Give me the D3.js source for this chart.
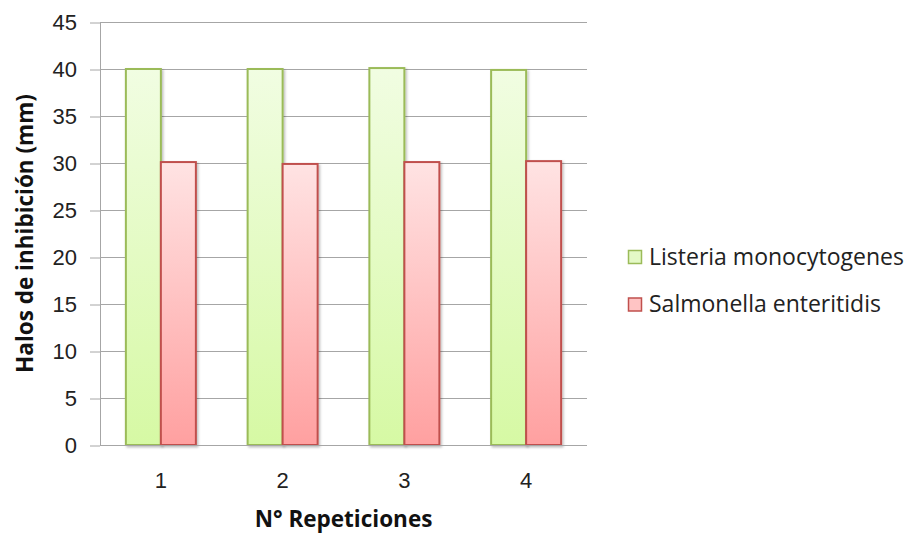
<!DOCTYPE html>
<html>
<head>
<meta charset="utf-8">
<script src="https://cdn.jsdelivr.net/npm/d3@7"></script>
<style>
  html, body { margin: 0; padding: 0; background: #fff; }
  svg { display: block; font-family: "Open Sans", "Liberation Sans", sans-serif; }
</style>
</head>
<body>
<svg id="chart" width="911" height="533"></svg>
<script>
// Inhibition halo diameters per repetition
const categories = ["1", "2", "3", "4"];
const seriesNames = ["Listeria monocytogenes", "Salmonella enteritidis"];
const listeria = [40, 40, 40.1, 39.9];
const salmonella = [30.1, 29.9, 30.1, 30.2];
const yTicks = [0, 5, 10, 15, 20, 25, 30, 35, 40, 45];
const xTitle = "N° Repeticiones";
const yTitle = "Halos de inhibición (mm)";

const svg = d3.select("#chart");
const margin = { left: 100, right: 324, top: 22, bottom: 88 };
const width = 911 - margin.left - margin.right;
const height = 533 - margin.top - margin.bottom;

const defs = svg.append("defs");
const grads = [
  { id: "gGreen", top: "#f1fde2", bottom: "#d6f9a4" },
  { id: "gRed", top: "#ffe3e3", bottom: "#ffa0a0" }
];
grads.forEach(g => {
  const lg = defs.append("linearGradient").attr("id", g.id)
    .attr("x1", 0).attr("y1", 0).attr("x2", 0).attr("y2", 1);
  lg.append("stop").attr("offset", "0%").attr("stop-color", g.top);
  lg.append("stop").attr("offset", "100%").attr("stop-color", g.bottom);
});
const shadow = defs.append("filter").attr("id", "shadow")
  .attr("x", "-20%").attr("y", "-5%").attr("width", "150%").attr("height", "115%");
shadow.append("feDropShadow").attr("dx", 1.5).attr("dy", 1.5)
  .attr("stdDeviation", 1.2).attr("flood-color", "#000").attr("flood-opacity", 0.25);

const fills = ["url(#gGreen)", "url(#gRed)"];
const strokes = ["#9bbb59", "#c0504d"];
const legendFills = ["#e4f9c6", "#ffc4c4"];

const g = svg.append("g").attr("transform", `translate(${margin.left},${margin.top})`);

const y = d3.scaleLinear().domain([0, 45]).range([height, 0]);
const x0 = d3.scaleBand().domain(categories).range([0, width]).paddingInner(0.425).paddingOuter(0.2125);
const x1 = d3.scaleBand().domain(seriesNames).range([0, x0.bandwidth()]).padding(0);

// Gridlines
g.append("g").selectAll("line").data(yTicks.filter(t => t > 0)).join("line")
  .attr("x1", 0).attr("x2", width)
  .attr("y1", d => y(d) + 0.5).attr("y2", d => y(d) + 0.5)
  .attr("stroke", "#a6a6a6").attr("stroke-width", 1);

// Y axis
const yAxis = g.append("g")
  .call(d3.axisLeft(y).tickValues(yTicks).tickSize(10).tickPadding(13).tickFormat(d3.format("d")));
yAxis.select(".domain").remove();
yAxis.selectAll(".tick line").attr("stroke", "#a6a6a6").attr("transform", "translate(0,0.5)");
yAxis.selectAll(".tick text").attr("font-size", 22).attr("fill", "#222").attr("dy", "0.36em");
g.append("line").attr("x1", 0.5).attr("x2", 0.5).attr("y1", 0).attr("y2", height)
  .attr("stroke", "#a6a6a6");

// Bars
const data = categories.map((c, i) => ({ cat: c, vals: [listeria[i], salmonella[i]] }));
const groups = g.append("g").selectAll("g").data(data).join("g")
  .attr("transform", d => `translate(${x0(d.cat)},0)`);
groups.selectAll("rect").data(d => d.vals.map((v, k) => ({ v, k })))
  .join("rect")
  .attr("x", d => x1(seriesNames[d.k]))
  .attr("width", x1.bandwidth())
  .attr("y", d => y(d.v))
  .attr("height", d => y(0) - y(d.v))
  .attr("fill", d => fills[d.k])
  .attr("stroke", d => strokes[d.k])
  .attr("stroke-width", 2)
  .attr("filter", "url(#shadow)");

// X axis baseline
g.append("line").attr("x1", 0).attr("x2", width)
  .attr("y1", height + 0.5).attr("y2", height + 0.5).attr("stroke", "#a6a6a6");
const xAxis = g.append("g").attr("transform", `translate(0,${height})`)
  .call(d3.axisBottom(x0).tickSize(0).tickPadding(27));
xAxis.select(".domain").remove();
xAxis.selectAll(".tick text").attr("font-size", 22).attr("fill", "#222");

// Axis titles
svg.append("text").attr("x", margin.left + width / 2).attr("y", 527)
  .attr("text-anchor", "middle").attr("font-size", 22.5).attr("font-weight", "bold")
  .attr("fill", "#111").text(xTitle);
svg.append("text").attr("transform", `translate(33,${margin.top + height / 2}) rotate(-90)`)
  .attr("text-anchor", "middle").attr("font-size", 22.5).attr("font-weight", "bold")
  .attr("fill", "#111").text(yTitle);

// Legend
const legend = svg.append("g").attr("transform", "translate(628,250)");
seriesNames.forEach((name, i) => {
  const row = legend.append("g").attr("transform", `translate(0,${i * 47.5})`);
  row.append("rect").attr("x", 0.5).attr("y", 0.5).attr("width", 13).attr("height", 13)
    .attr("fill", legendFills[i]).attr("stroke", strokes[i]).attr("stroke-width", 1.5);
  row.append("text").attr("x", 21).attr("y", 14.5)
    .attr("font-size", 23).attr("fill", "#222").text(name);
});
</script>
</body>
</html>
